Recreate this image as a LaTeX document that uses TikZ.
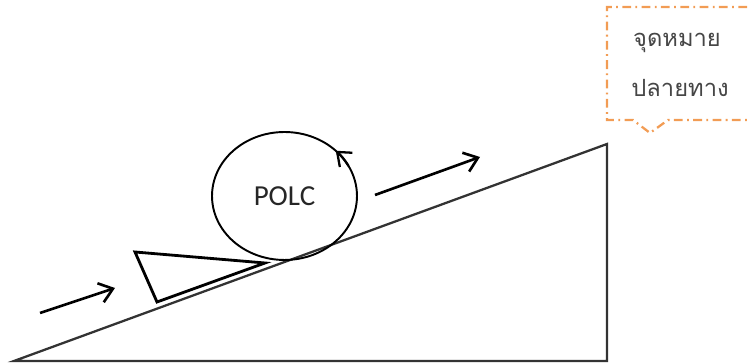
\documentclass[tikz,border=0pt]{standalone}
\usepackage{fontspec}
\setsansfont{Carlito}
\newfontfamily\thaifont[Script=Thai]{Loma}
\usetikzlibrary{positioning,arrows.meta,shapes.geometric}
\definecolor{callorange}{RGB}{242,156,84}
\definecolor{inkgray}{RGB}{70,70,70}
\tikzset{
  slope/.style={line width=1.3pt,black!80,line join=miter},
  wedge/.style={line width=1.6pt,black},
  push/.style={-{Straight Barb[length=2.6mm,width=4mm]},line width=1.5pt},
  ball/.style={ellipse,draw,line width=1.1pt,minimum width=2.9cm,minimum height=2.56cm,
    font=\sffamily\fontsize{16.5}{19}\selectfont,text=black!85},
  spin/.style={-{Straight Barb[length=2.4mm,width=3.8mm]},line width=1.3pt},
  callbox/.style={callorange,line width=1.3pt,dash pattern=on 5pt off 2.5pt on 1pt off 2.5pt},
  goaltxt/.style={font=\thaifont\fontsize{13.5}{16}\selectfont,text=inkgray},
}

\begin{document}
\begin{tikzpicture}[x=0.02cm,y=0.02cm]
  \useasboundingbox (0,0) rectangle (748,364);
  \clip (0,0) rectangle (748,364);
  % the incline
  \draw[slope] (14,3) -- (607,3) -- (607,220) -- cycle;
  % wedge under the ball
  \draw[wedge] (135,112) -- (265,101) -- (157,62) -- cycle;
  % ball and its turning arrow
  \node[ball] (ball) at (284.5,168) {POLC};
  \draw[spin] ([shift={(28:72.5 and 64)}]ball.center)
    arc[start angle=28,end angle=45,x radius=72.5,y radius=64];
  % direction of travel
  \coordinate (p1s) at (40,51);  \coordinate (p1e) at (115,76);
  \coordinate (p2s) at (375,169); \coordinate (p2e) at (480,207);
  \foreach \s/\e in {p1s/p1e,p2s/p2e}
    \draw[push] (\s) -- (\e);
  % goal callout
  \draw[callbox] (760,244) -- (668,244) -- (650,231) -- (633,244) -- (607,244)
    -- (607,357) -- (760,357);
  \node[goaltxt] (goal1) at (677,321) {จุดหมาย};
  \node[goaltxt] (goal2) at (680,276) {ปลายทาง};
\end{tikzpicture}
\end{document}
